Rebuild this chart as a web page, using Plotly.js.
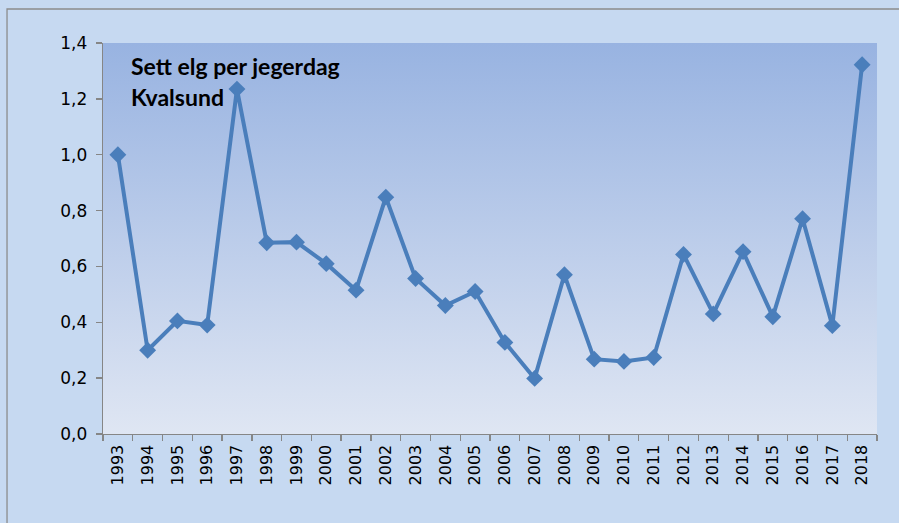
<!DOCTYPE html>
<html>
<head>
<meta charset="utf-8">
<script src="https://cdn.plot.ly/plotly-3.0.1.min.js"></script>
<style>
html,body{margin:0;padding:0;background:#c6d9f1;}
#chart{width:899px;height:523px;}
</style>
</head>
<body>
<div id="chart"></div>
<script>
var years = ["1993","1994","1995","1996","1997","1998","1999","2000","2001","2002","2003","2004","2005","2006","2007","2008","2009","2010","2011","2012","2013","2014","2015","2016","2017","2018"];
var settElg = [1.00,0.30,0.405,0.39,1.235,0.685,0.687,0.61,0.515,0.848,0.557,0.46,0.51,0.328,0.199,0.57,0.268,0.26,0.274,0.643,0.43,0.653,0.42,0.771,0.388,1.322];
var titleLines = ["Sett elg per jegerdag","Kvalsund"];

var gradSvg = '<svg xmlns="http://www.w3.org/2000/svg" width="100" height="100" preserveAspectRatio="none">' +
  '<defs><linearGradient id="g" x1="0" y1="0" x2="0" y2="1">' +
  '<stop offset="0" stop-color="#98b3e1"/><stop offset="1" stop-color="#dfe6f3"/></linearGradient></defs>' +
  '<rect width="100" height="100" fill="url(#g)"/></svg>';
var gradUri = 'data:image/svg+xml;base64,' + btoa(gradSvg);

var trace = {
  x: years,
  y: settElg,
  type: 'scatter',
  mode: 'lines+markers',
  line: {color: '#4a7ebb', width: 4},
  marker: {symbol: 'diamond', size: 13, color: '#4a7ebb'},
  hoverinfo: 'x+y'
};

var axisCol = '#868686';
var layout = {
  width: 899,
  height: 523,
  margin: {l: 103, r: 22, t: 43, b: 89, pad: 0},
  paper_bgcolor: '#c6d9f1',
  plot_bgcolor: 'rgba(0,0,0,0)',
  separators: ',.',
  showlegend: false,
  font: {family: 'DejaVu Sans, sans-serif', size: 16, color: '#000'},
  xaxis: {
    type: 'category',
    range: [-0.5, 25.5],
    tickson: 'boundaries',
    ticks: 'outside',
    ticklen: 6,
    tickwidth: 1.3,
    tickcolor: axisCol,
    showline: true,
    linecolor: axisCol,
    linewidth: 1.3,
    showgrid: false,
    zeroline: false,
    tickangle: -90,
    ticklabelstandoff: 3,
    tickfont: {family: 'DejaVu Sans', size: 16, color: '#000'}
  },
  yaxis: {
    range: [0, 1.4],
    dtick: 0.2,
    tick0: 0,
    tickformat: '.1f',
    ticks: 'outside',
    ticklen: 6,
    tickwidth: 1.3,
    tickcolor: axisCol,
    showline: true,
    linecolor: axisCol,
    linewidth: 1.3,
    showgrid: false,
    zeroline: false,
    ticklabelstandoff: 5,
    tickfont: {family: 'DejaVu Sans', size: 17, color: '#000'}
  },
  images: [{
    source: gradUri,
    xref: 'paper', yref: 'paper',
    x: 0, y: 1, sizex: 1, sizey: 1,
    xanchor: 'left', yanchor: 'top',
    sizing: 'stretch',
    layer: 'below'
  }],
  shapes: [{
    type: 'rect', xref: 'paper', yref: 'paper',
    x0: -0.124, x1: 1.2, y0: -0.4, y1: 1.087,
    line: {color: '#8c8c8c', width: 1.3},
    fillcolor: 'rgba(0,0,0,0)'
  }],
  annotations: [
    {text: '<b>' + titleLines[0] + '</b>', xref: 'paper', yref: 'paper', x: 0.033, y: 0.94,
     xanchor: 'left', yanchor: 'middle', showarrow: false,
     font: {family: 'Lato, Liberation Sans, sans-serif', size: 23, color: '#000'}},
    {text: '<b>' + titleLines[1] + '</b>', xref: 'paper', yref: 'paper', x: 0.033, y: 0.862,
     xanchor: 'left', yanchor: 'middle', showarrow: false,
     font: {family: 'Lato, Liberation Sans, sans-serif', size: 23, color: '#000'}}
  ]
};

Plotly.newPlot('chart', [trace], layout, {displayModeBar: false, staticPlot: true});
</script>
</body>
</html>
